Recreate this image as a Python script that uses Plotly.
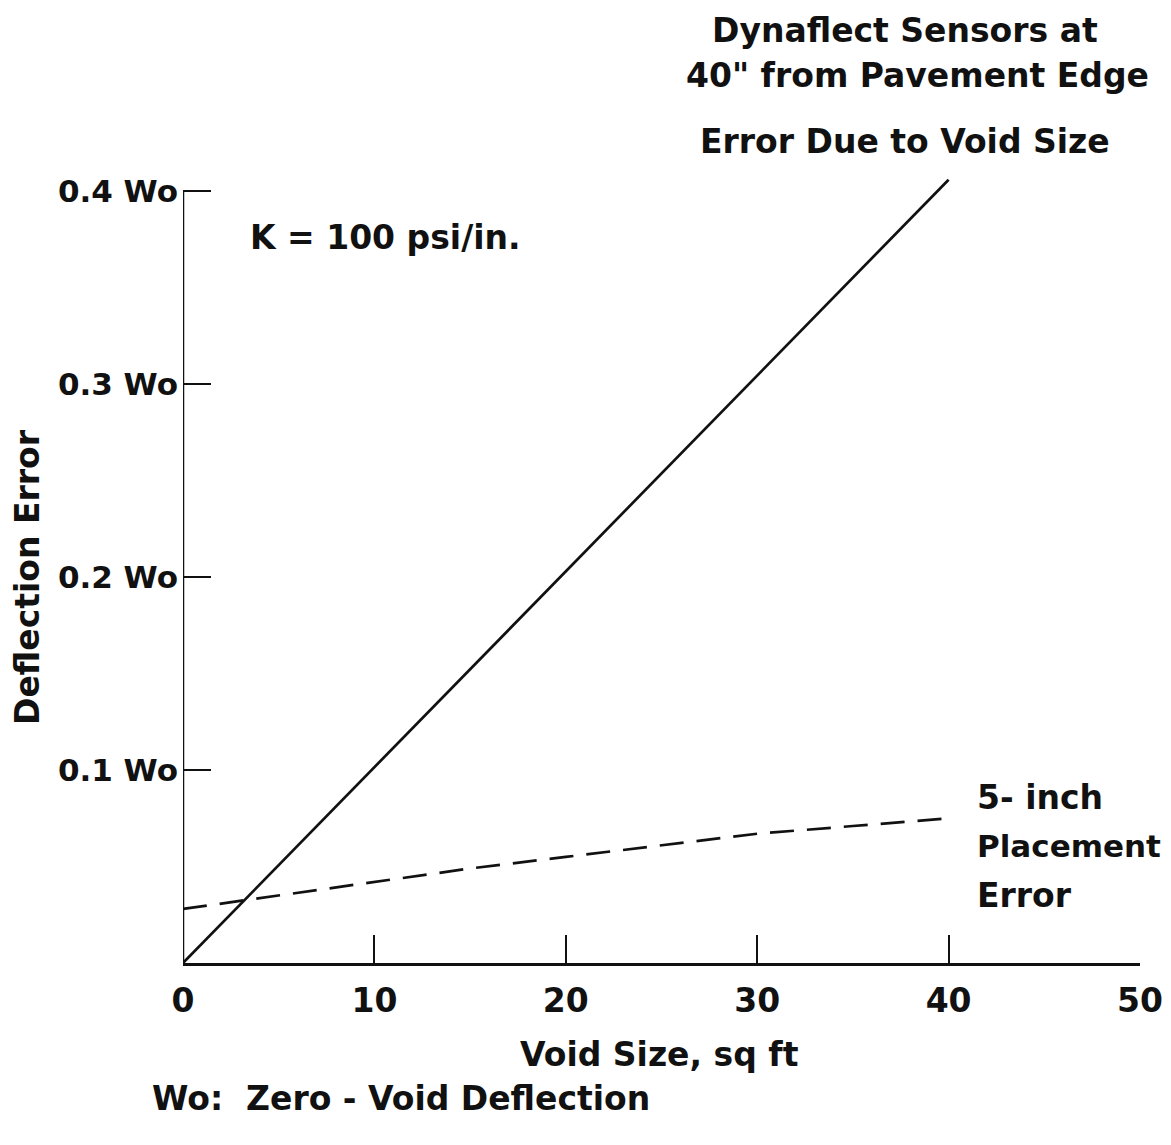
import plotly.graph_objects as go

# values (void size in sq ft, error in units of Wo)
void_size_solid = [0, 40]
error_solid = [0, 0.406]

void_size_dash = [0, 5, 10, 15, 20, 25, 30, 35, 40]
error_dash = [0.028, 0.035, 0.042, 0.049, 0.055, 0.061, 0.067, 0.071, 0.075]

x_ticks = [0, 10, 20, 30, 40, 50]
y_ticks = [0.1, 0.2, 0.3, 0.4]
y_tick_labels = ['0.1 Wo', '0.2 Wo', '0.3 Wo', '0.4 Wo']

FONT = 'DejaVu Sans'
INK = '#111111'

fig = go.Figure()
fig.add_trace(go.Scatter(x=void_size_solid, y=error_solid, mode='lines',
                         line=dict(color=INK, width=2.7), showlegend=False))
fig.add_trace(go.Scatter(x=void_size_dash, y=error_dash, mode='lines',
                         line=dict(color=INK, width=2.7, dash='24px,13px'),
                         showlegend=False))

# y axis line only up to 0.4 (the solid line pokes a little above it)
fig.add_shape(type='line', xref='x', yref='y', x0=0, x1=0, y0=0, y1=0.4,
              line=dict(color=INK, width=2.5))

fig.update_xaxes(range=[0, 50], tickvals=x_ticks, ticks='inside', ticklen=28,
                 tickwidth=2, tickcolor=INK, showline=True, linecolor=INK,
                 linewidth=3, showgrid=False, zeroline=False,
                 tickfont=dict(family=FONT, size=33, color=INK, weight='bold'),
                 ticklabelstandoff=6)
fig.update_yaxes(range=[0, 0.41], tickvals=y_ticks, ticktext=y_tick_labels,
                 ticks='inside', ticklen=28, tickwidth=2, tickcolor=INK,
                 showline=False, showgrid=False, zeroline=False,
                 tickfont=dict(family=FONT, size=31, color=INK, weight='bold'),
                 ticklabelstandoff=4)

txt = dict(family=FONT, size=33, color=INK, weight='bold')
mid = dict(family=FONT, size=31, color=INK, weight='bold')
annotations = [
    dict(text='Deflection Error', xref='paper', yref='paper', x=-0.162, y=0.488,
         xanchor='center', yanchor='middle', textangle=-90, showarrow=False,
         font=txt),
    dict(text='Void Size, sq ft', xref='paper', yref='paper', x=0.498, y=-0.116,
         showarrow=False, font=txt, yanchor='middle'),
    dict(text='Wo:  Zero - Void Deflection', xref='paper', yref='paper',
         x=-0.0345, y=-0.171, xanchor='left', yanchor='middle', showarrow=False,
         font=txt),
    dict(text='K = 100 psi/in.', xref='x', yref='y', x=3.4, y=0.376,
         xanchor='left', yanchor='middle', showarrow=False, font=txt),
    dict(text='Dynaflect Sensors at', xref='paper', yref='paper', x=0.754,
         y=1.1795, xanchor='center', yanchor='middle', showarrow=False, font=txt),
    dict(text='40" from Pavement Edge', xref='paper', yref='paper', x=0.768,
         y=1.1226, xanchor='center', yanchor='middle', showarrow=False, font=txt),
    dict(text='Error Due to Void Size', xref='paper', yref='paper', x=0.754,
         y=1.038, xanchor='center', yanchor='middle', showarrow=False, font=txt),
    dict(text='5- inch', xref='x', yref='y', x=41.4, y=0.086,
         xanchor='left', yanchor='middle', showarrow=False, font=txt),
    dict(text='Placement', xref='x', yref='y', x=41.4, y=0.0606,
         xanchor='left', yanchor='middle', showarrow=False, font=mid),
    dict(text='Error', xref='x', yref='y', x=41.4, y=0.035,
         xanchor='left', yanchor='middle', showarrow=False, font=txt),
]
fig.update_layout(annotations=annotations)

# the page adds an 8px body margin, so the margins are trimmed by 8px
fig.update_layout(width=1171, height=1145, paper_bgcolor='white',
                  plot_bgcolor='white',
                  margin=dict(l=175, r=39, t=164, b=190))

fig.write_html('out.html')
